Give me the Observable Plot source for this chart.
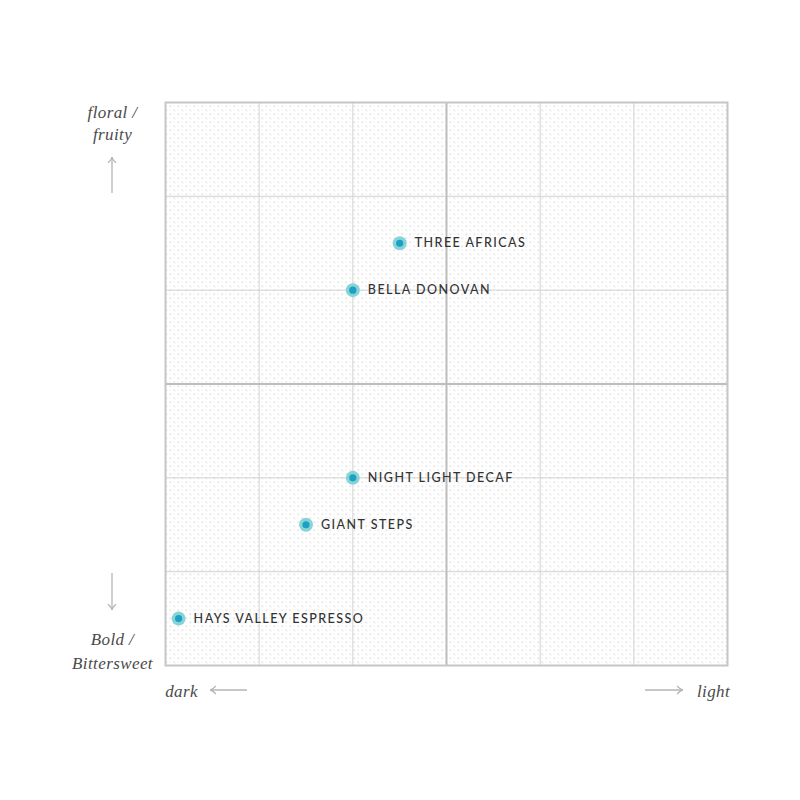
<!DOCTYPE html>
<html>
<head>
<meta charset="utf-8">
<script src="https://cdn.jsdelivr.net/npm/d3@7"></script>
<script src="https://cdn.jsdelivr.net/npm/@observablehq/plot@0.6"></script>
<style>
  html, body { margin: 0; padding: 0; background: #fff; }
  #chart { width: 800px; height: 800px; }
</style>
</head>
<body>
<svg width="0" height="0" style="position:absolute">
  <defs>
    <pattern id="dots" width="8" height="8" patternUnits="userSpaceOnUse">
      <rect x="1" y="1" width="1.4" height="1.4" fill="#d2d2d2"></rect>
      <rect x="5" y="5" width="1.4" height="1.4" fill="#d2d2d2"></rect>
      <rect x="5" y="1" width="1" height="1" fill="#e4e4e4"></rect>
      <rect x="1" y="5" width="1" height="1" fill="#e4e4e4"></rect>
    </pattern>
  </defs>
</svg>
<div id="chart"></div>
<script>
// Coffees: roast (dark → light) vs flavor (bold/bittersweet → floral/fruity)
const names = ["Three Africas", "Bella Donovan", "Night Light Decaf", "Giant Steps", "Hays Valley Espresso"];
const roast = [2.5, 2.0, 2.0, 1.5, 0.14];
const flavor = [4.5, 4.0, 2.0, 1.5, 0.5];
const gridTicks = [1, 2, 4, 5];
const centerTick = [3];

const data = names.map((n, i) => ({name: n.toUpperCase(), x: roast[i], y: flavor[i]}));

const serif = "'Liberation Serif', 'DejaVu Serif', serif";
const sans = "Lato, 'Open Sans', sans-serif";

const serifStyle = {fontSize: 17, fontStyle: "italic", fontFamily: serif, fill: "#4a4a4a", textAnchor: "middle", lineAnchor: "middle"};

const plot = Plot.plot({
  width: 800,
  height: 800,
  marginLeft: 165,
  marginRight: 73,
  marginTop: 102,
  marginBottom: 135,
  x: {domain: [0, 6], axis: null},
  y: {domain: [0, 6], axis: null},
  style: {background: "#fff"},
  marks: [
    Plot.frame({fill: "url(#dots)", stroke: null}),
    Plot.ruleX(gridTicks, {stroke: "#d3d3d3", strokeWidth: 1}),
    Plot.ruleY(gridTicks, {stroke: "#d3d3d3", strokeWidth: 1}),
    Plot.ruleX(centerTick, {stroke: "#bdbdbd", strokeWidth: 2}),
    Plot.ruleY(centerTick, {stroke: "#bdbdbd", strokeWidth: 2}),
    Plot.frame({stroke: "#c6c6c6", strokeWidth: 2}),
    Plot.dot(data, {x: "x", y: "y", r: 7, fill: "#86d5d6", stroke: null}),
    Plot.dot(data, {x: "x", y: "y", r: 3.6, fill: "#1f9fc6", stroke: null}),
    Plot.text(data, {x: "x", y: "y", text: "name", dx: 15, textAnchor: "start",
      fontSize: 12.5, fill: "#333", fontFamily: sans, fontWeight: 500}),
    Plot.text(["floral /\nfruity"], {...serifStyle, frameAnchor: "top-left", dx: -53, dy: 19, lineHeight: 1.3}),
    Plot.text(["Bold /\nBittersweet"], {...serifStyle, frameAnchor: "bottom-left", dx: -53, dy: -16, lineHeight: 1.4}),
    Plot.text(["dark"], {...serifStyle, frameAnchor: "bottom-left", dx: 16, dy: 26}),
    Plot.text(["light"], {...serifStyle, frameAnchor: "bottom-right", dx: -14, dy: 26})
  ]
});

const svg = d3.select(plot);
svg.selectAll("g[font-family^='Lato'] text").style("letter-spacing", "1.45px");
svg.selectAll("g[font-family^=\"'Liberation\"] text").style("letter-spacing", "0.4px");

// decorative direction arrows
const g = svg.append("g").attr("fill", "none").attr("stroke", "#b5b5b5").attr("stroke-width", 1.3);
function arrow(x1, y1, x2, y2) {
  g.append("line").attr("x1", x1).attr("y1", y1).attr("x2", x2).attr("y2", y2);
  const a = Math.atan2(y2 - y1, x2 - x1), h = 7, w = 0.6;
  const p1 = [x2 - h * Math.cos(a - w), y2 - h * Math.sin(a - w)];
  const p2 = [x2 - h * Math.cos(a + w), y2 - h * Math.sin(a + w)];
  g.append("path").attr("d", `M${p1}Q${x2 - 2 * Math.cos(a)},${y2 - 2 * Math.sin(a)} ${x2},${y2}Q${x2 - 2 * Math.cos(a)},${y2 - 2 * Math.sin(a)} ${p2}`);
}
const L = 165, T = 102, B = 665, R = 727;
arrow(112, T + 91, 112, T + 55);
arrow(112, B - 92, 112, B - 55);
arrow(L + 82, B + 25, L + 45, B + 25);
arrow(R - 82, B + 25, R - 44, B + 25);

document.getElementById("chart").appendChild(plot);
</script>
</body>
</html>
